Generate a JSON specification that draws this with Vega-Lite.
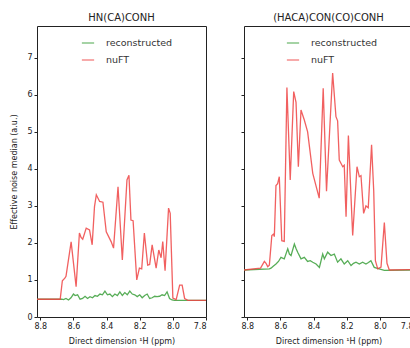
{
  "$schema": "https://vega.github.io/schema/vega-lite/v6.json",
  "padding": {"left": 10, "top": 12, "right": 0, "bottom": 0},
  "spacing": 30,
  "config": {
    "font": "DejaVu Sans",
    "view": {"stroke": "#222", "strokeWidth": 1},
    "axis": {"grid": false, "domain": false, "labelFontSize": 8, "titleFontSize": 8, "labelColor": "#222", "titleColor": "#222", "titleFontWeight": "normal", "tickColor": "#222", "tickSize": 3},
    "title": {"fontSize": 10, "fontWeight": "normal", "color": "#222", "offset": 3},
    "legend": {"symbolType": "stroke", "symbolSize": 150, "symbolStrokeWidth": 1.5, "labelFontSize": 9.5, "labelColor": "#333", "labelOffset": 11, "rowPadding": 5, "padding": 0, "title": null, "symbolOpacity": 0.6}
  },
  "datasets": {
    "d": [
      {"panel": "A", "series": "reconstructed", "ppm": 8.82, "value": 0.48},
      {"panel": "A", "series": "reconstructed", "ppm": 8.67, "value": 0.48},
      {"panel": "A", "series": "reconstructed", "ppm": 8.66, "value": 0.47},
      {"panel": "A", "series": "reconstructed", "ppm": 8.645, "value": 0.5},
      {"panel": "A", "series": "reconstructed", "ppm": 8.63, "value": 0.46},
      {"panel": "A", "series": "reconstructed", "ppm": 8.615, "value": 0.52},
      {"panel": "A", "series": "reconstructed", "ppm": 8.6, "value": 0.62},
      {"panel": "A", "series": "reconstructed", "ppm": 8.59, "value": 0.58},
      {"panel": "A", "series": "reconstructed", "ppm": 8.575, "value": 0.6},
      {"panel": "A", "series": "reconstructed", "ppm": 8.56, "value": 0.48},
      {"panel": "A", "series": "reconstructed", "ppm": 8.545, "value": 0.5},
      {"panel": "A", "series": "reconstructed", "ppm": 8.53, "value": 0.56},
      {"panel": "A", "series": "reconstructed", "ppm": 8.515, "value": 0.5},
      {"panel": "A", "series": "reconstructed", "ppm": 8.5, "value": 0.55},
      {"panel": "A", "series": "reconstructed", "ppm": 8.485, "value": 0.52},
      {"panel": "A", "series": "reconstructed", "ppm": 8.47, "value": 0.58},
      {"panel": "A", "series": "reconstructed", "ppm": 8.455, "value": 0.56},
      {"panel": "A", "series": "reconstructed", "ppm": 8.44, "value": 0.62},
      {"panel": "A", "series": "reconstructed", "ppm": 8.425, "value": 0.6},
      {"panel": "A", "series": "reconstructed", "ppm": 8.41, "value": 0.7},
      {"panel": "A", "series": "reconstructed", "ppm": 8.395, "value": 0.6},
      {"panel": "A", "series": "reconstructed", "ppm": 8.38, "value": 0.62},
      {"panel": "A", "series": "reconstructed", "ppm": 8.365, "value": 0.55},
      {"panel": "A", "series": "reconstructed", "ppm": 8.35, "value": 0.62},
      {"panel": "A", "series": "reconstructed", "ppm": 8.335, "value": 0.58},
      {"panel": "A", "series": "reconstructed", "ppm": 8.32, "value": 0.68},
      {"panel": "A", "series": "reconstructed", "ppm": 8.305, "value": 0.58},
      {"panel": "A", "series": "reconstructed", "ppm": 8.29, "value": 0.66},
      {"panel": "A", "series": "reconstructed", "ppm": 8.275, "value": 0.6},
      {"panel": "A", "series": "reconstructed", "ppm": 8.26, "value": 0.7},
      {"panel": "A", "series": "reconstructed", "ppm": 8.245, "value": 0.62},
      {"panel": "A", "series": "reconstructed", "ppm": 8.23, "value": 0.6},
      {"panel": "A", "series": "reconstructed", "ppm": 8.215, "value": 0.55},
      {"panel": "A", "series": "reconstructed", "ppm": 8.2, "value": 0.6},
      {"panel": "A", "series": "reconstructed", "ppm": 8.185, "value": 0.52},
      {"panel": "A", "series": "reconstructed", "ppm": 8.17, "value": 0.58},
      {"panel": "A", "series": "reconstructed", "ppm": 8.155, "value": 0.62},
      {"panel": "A", "series": "reconstructed", "ppm": 8.14, "value": 0.5},
      {"panel": "A", "series": "reconstructed", "ppm": 8.125, "value": 0.52},
      {"panel": "A", "series": "reconstructed", "ppm": 8.11, "value": 0.56},
      {"panel": "A", "series": "reconstructed", "ppm": 8.095, "value": 0.55},
      {"panel": "A", "series": "reconstructed", "ppm": 8.08, "value": 0.56},
      {"panel": "A", "series": "reconstructed", "ppm": 8.065, "value": 0.6},
      {"panel": "A", "series": "reconstructed", "ppm": 8.05, "value": 0.58},
      {"panel": "A", "series": "reconstructed", "ppm": 8.035, "value": 0.68},
      {"panel": "A", "series": "reconstructed", "ppm": 8.02, "value": 0.5},
      {"panel": "A", "series": "reconstructed", "ppm": 8.005, "value": 0.46},
      {"panel": "A", "series": "reconstructed", "ppm": 7.99, "value": 0.45},
      {"panel": "A", "series": "reconstructed", "ppm": 7.8, "value": 0.45},

      {"panel": "A", "series": "nuFT", "ppm": 8.82, "value": 0.48},
      {"panel": "A", "series": "nuFT", "ppm": 8.68, "value": 0.48},
      {"panel": "A", "series": "nuFT", "ppm": 8.667, "value": 0.98},
      {"panel": "A", "series": "nuFT", "ppm": 8.652, "value": 1.05},
      {"panel": "A", "series": "nuFT", "ppm": 8.645, "value": 1.1},
      {"panel": "A", "series": "nuFT", "ppm": 8.614, "value": 2.03},
      {"panel": "A", "series": "nuFT", "ppm": 8.584, "value": 0.82},
      {"panel": "A", "series": "nuFT", "ppm": 8.564, "value": 2.27},
      {"panel": "A", "series": "nuFT", "ppm": 8.554, "value": 2.15},
      {"panel": "A", "series": "nuFT", "ppm": 8.544, "value": 2.1},
      {"panel": "A", "series": "nuFT", "ppm": 8.523, "value": 2.4},
      {"panel": "A", "series": "nuFT", "ppm": 8.503, "value": 2.35},
      {"panel": "A", "series": "nuFT", "ppm": 8.487, "value": 1.95},
      {"panel": "A", "series": "nuFT", "ppm": 8.473, "value": 2.98},
      {"panel": "A", "series": "nuFT", "ppm": 8.462, "value": 3.3},
      {"panel": "A", "series": "nuFT", "ppm": 8.442, "value": 3.12},
      {"panel": "A", "series": "nuFT", "ppm": 8.422, "value": 3.1},
      {"panel": "A", "series": "nuFT", "ppm": 8.402, "value": 2.3},
      {"panel": "A", "series": "nuFT", "ppm": 8.372, "value": 2.03},
      {"panel": "A", "series": "nuFT", "ppm": 8.358, "value": 1.86},
      {"panel": "A", "series": "nuFT", "ppm": 8.331, "value": 3.52},
      {"panel": "A", "series": "nuFT", "ppm": 8.305, "value": 1.54},
      {"panel": "A", "series": "nuFT", "ppm": 8.277, "value": 3.7},
      {"panel": "A", "series": "nuFT", "ppm": 8.265, "value": 3.83},
      {"panel": "A", "series": "nuFT", "ppm": 8.253, "value": 2.62},
      {"panel": "A", "series": "nuFT", "ppm": 8.24, "value": 2.6},
      {"panel": "A", "series": "nuFT", "ppm": 8.218, "value": 1.0},
      {"panel": "A", "series": "nuFT", "ppm": 8.202, "value": 1.32},
      {"panel": "A", "series": "nuFT", "ppm": 8.188, "value": 1.3},
      {"panel": "A", "series": "nuFT", "ppm": 8.172, "value": 2.27},
      {"panel": "A", "series": "nuFT", "ppm": 8.152, "value": 1.4},
      {"panel": "A", "series": "nuFT", "ppm": 8.14, "value": 1.42},
      {"panel": "A", "series": "nuFT", "ppm": 8.125, "value": 1.95},
      {"panel": "A", "series": "nuFT", "ppm": 8.101, "value": 1.32},
      {"panel": "A", "series": "nuFT", "ppm": 8.085, "value": 1.81},
      {"panel": "A", "series": "nuFT", "ppm": 8.071, "value": 1.6},
      {"panel": "A", "series": "nuFT", "ppm": 8.061, "value": 2.04},
      {"panel": "A", "series": "nuFT", "ppm": 8.047, "value": 1.25},
      {"panel": "A", "series": "nuFT", "ppm": 8.026, "value": 2.94},
      {"panel": "A", "series": "nuFT", "ppm": 8.016, "value": 2.8},
      {"panel": "A", "series": "nuFT", "ppm": 8.0, "value": 0.51},
      {"panel": "A", "series": "nuFT", "ppm": 7.98, "value": 0.47},
      {"panel": "A", "series": "nuFT", "ppm": 7.959, "value": 0.86},
      {"panel": "A", "series": "nuFT", "ppm": 7.944, "value": 0.86},
      {"panel": "A", "series": "nuFT", "ppm": 7.929, "value": 0.5},
      {"panel": "A", "series": "nuFT", "ppm": 7.909, "value": 0.45},
      {"panel": "A", "series": "nuFT", "ppm": 7.8, "value": 0.45},

      {"panel": "B", "series": "reconstructed", "ppm": 8.82, "value": 1.27},
      {"panel": "B", "series": "reconstructed", "ppm": 8.667, "value": 1.3},
      {"panel": "B", "series": "reconstructed", "ppm": 8.657, "value": 1.32},
      {"panel": "B", "series": "reconstructed", "ppm": 8.642, "value": 1.38},
      {"panel": "B", "series": "reconstructed", "ppm": 8.627, "value": 1.43},
      {"panel": "B", "series": "reconstructed", "ppm": 8.612, "value": 1.5},
      {"panel": "B", "series": "reconstructed", "ppm": 8.597, "value": 1.61},
      {"panel": "B", "series": "reconstructed", "ppm": 8.577, "value": 1.57},
      {"panel": "B", "series": "reconstructed", "ppm": 8.556, "value": 1.84},
      {"panel": "B", "series": "reconstructed", "ppm": 8.546, "value": 1.7},
      {"panel": "B", "series": "reconstructed", "ppm": 8.536, "value": 1.66},
      {"panel": "B", "series": "reconstructed", "ppm": 8.516, "value": 1.97},
      {"panel": "B", "series": "reconstructed", "ppm": 8.506, "value": 1.85},
      {"panel": "B", "series": "reconstructed", "ppm": 8.496, "value": 1.75},
      {"panel": "B", "series": "reconstructed", "ppm": 8.476, "value": 1.57},
      {"panel": "B", "series": "reconstructed", "ppm": 8.456, "value": 1.61},
      {"panel": "B", "series": "reconstructed", "ppm": 8.436, "value": 1.5},
      {"panel": "B", "series": "reconstructed", "ppm": 8.42, "value": 1.52},
      {"panel": "B", "series": "reconstructed", "ppm": 8.405, "value": 1.48},
      {"panel": "B", "series": "reconstructed", "ppm": 8.385, "value": 1.43},
      {"panel": "B", "series": "reconstructed", "ppm": 8.365, "value": 1.34},
      {"panel": "B", "series": "reconstructed", "ppm": 8.345, "value": 1.7},
      {"panel": "B", "series": "reconstructed", "ppm": 8.335, "value": 1.57},
      {"panel": "B", "series": "reconstructed", "ppm": 8.315, "value": 1.75},
      {"panel": "B", "series": "reconstructed", "ppm": 8.295, "value": 1.66},
      {"panel": "B", "series": "reconstructed", "ppm": 8.275, "value": 1.7},
      {"panel": "B", "series": "reconstructed", "ppm": 8.255, "value": 1.48},
      {"panel": "B", "series": "reconstructed", "ppm": 8.235, "value": 1.57},
      {"panel": "B", "series": "reconstructed", "ppm": 8.215, "value": 1.43},
      {"panel": "B", "series": "reconstructed", "ppm": 8.194, "value": 1.52},
      {"panel": "B", "series": "reconstructed", "ppm": 8.174, "value": 1.39},
      {"panel": "B", "series": "reconstructed", "ppm": 8.159, "value": 1.45},
      {"panel": "B", "series": "reconstructed", "ppm": 8.144, "value": 1.48},
      {"panel": "B", "series": "reconstructed", "ppm": 8.124, "value": 1.43},
      {"panel": "B", "series": "reconstructed", "ppm": 8.104, "value": 1.48},
      {"panel": "B", "series": "reconstructed", "ppm": 8.084, "value": 1.43},
      {"panel": "B", "series": "reconstructed", "ppm": 8.069, "value": 1.47},
      {"panel": "B", "series": "reconstructed", "ppm": 8.054, "value": 1.52},
      {"panel": "B", "series": "reconstructed", "ppm": 8.034, "value": 1.34},
      {"panel": "B", "series": "reconstructed", "ppm": 8.004, "value": 1.3},
      {"panel": "B", "series": "reconstructed", "ppm": 7.973, "value": 1.26},
      {"panel": "B", "series": "reconstructed", "ppm": 7.8, "value": 1.27},

      {"panel": "B", "series": "nuFT", "ppm": 8.82, "value": 1.27},
      {"panel": "B", "series": "nuFT", "ppm": 8.72, "value": 1.32},
      {"panel": "B", "series": "nuFT", "ppm": 8.697, "value": 1.5},
      {"panel": "B", "series": "nuFT", "ppm": 8.687, "value": 1.45},
      {"panel": "B", "series": "nuFT", "ppm": 8.677, "value": 1.36},
      {"panel": "B", "series": "nuFT", "ppm": 8.667, "value": 1.4},
      {"panel": "B", "series": "nuFT", "ppm": 8.652, "value": 2.2},
      {"panel": "B", "series": "nuFT", "ppm": 8.642, "value": 2.24},
      {"panel": "B", "series": "nuFT", "ppm": 8.637, "value": 2.17},
      {"panel": "B", "series": "nuFT", "ppm": 8.627, "value": 3.55},
      {"panel": "B", "series": "nuFT", "ppm": 8.617, "value": 3.6},
      {"panel": "B", "series": "nuFT", "ppm": 8.607, "value": 3.79},
      {"panel": "B", "series": "nuFT", "ppm": 8.592, "value": 2.06},
      {"panel": "B", "series": "nuFT", "ppm": 8.577, "value": 2.04},
      {"panel": "B", "series": "nuFT", "ppm": 8.561, "value": 6.2},
      {"panel": "B", "series": "nuFT", "ppm": 8.541, "value": 3.7},
      {"panel": "B", "series": "nuFT", "ppm": 8.52, "value": 6.09},
      {"panel": "B", "series": "nuFT", "ppm": 8.506, "value": 5.8},
      {"panel": "B", "series": "nuFT", "ppm": 8.492, "value": 4.06},
      {"panel": "B", "series": "nuFT", "ppm": 8.476, "value": 5.59},
      {"panel": "B", "series": "nuFT", "ppm": 8.456, "value": 5.32},
      {"panel": "B", "series": "nuFT", "ppm": 8.436, "value": 5.0},
      {"panel": "B", "series": "nuFT", "ppm": 8.405, "value": 3.88},
      {"panel": "B", "series": "nuFT", "ppm": 8.366, "value": 3.21},
      {"panel": "B", "series": "nuFT", "ppm": 8.342, "value": 6.18},
      {"panel": "B", "series": "nuFT", "ppm": 8.322, "value": 3.4},
      {"panel": "B", "series": "nuFT", "ppm": 8.285, "value": 6.59},
      {"panel": "B", "series": "nuFT", "ppm": 8.265, "value": 5.41},
      {"panel": "B", "series": "nuFT", "ppm": 8.255, "value": 5.3},
      {"panel": "B", "series": "nuFT", "ppm": 8.245, "value": 4.24},
      {"panel": "B", "series": "nuFT", "ppm": 8.224, "value": 4.06},
      {"panel": "B", "series": "nuFT", "ppm": 8.215, "value": 4.1},
      {"panel": "B", "series": "nuFT", "ppm": 8.204, "value": 2.71},
      {"panel": "B", "series": "nuFT", "ppm": 8.19, "value": 4.9},
      {"panel": "B", "series": "nuFT", "ppm": 8.164, "value": 2.2},
      {"panel": "B", "series": "nuFT", "ppm": 8.138, "value": 4.06},
      {"panel": "B", "series": "nuFT", "ppm": 8.124, "value": 3.79},
      {"panel": "B", "series": "nuFT", "ppm": 8.114, "value": 3.82},
      {"panel": "B", "series": "nuFT", "ppm": 8.098, "value": 2.8},
      {"panel": "B", "series": "nuFT", "ppm": 8.084, "value": 3.0},
      {"panel": "B", "series": "nuFT", "ppm": 8.07, "value": 2.95},
      {"panel": "B", "series": "nuFT", "ppm": 8.05, "value": 4.65},
      {"panel": "B", "series": "nuFT", "ppm": 8.037, "value": 3.4},
      {"panel": "B", "series": "nuFT", "ppm": 8.027, "value": 1.52},
      {"panel": "B", "series": "nuFT", "ppm": 8.013, "value": 1.3},
      {"panel": "B", "series": "nuFT", "ppm": 7.993, "value": 1.35},
      {"panel": "B", "series": "nuFT", "ppm": 7.973, "value": 2.55},
      {"panel": "B", "series": "nuFT", "ppm": 7.957, "value": 1.45},
      {"panel": "B", "series": "nuFT", "ppm": 7.943, "value": 1.27},
      {"panel": "B", "series": "nuFT", "ppm": 7.8, "value": 1.28}
    ]
  },
  "data": {"name": "d"},
  "resolve": {"legend": {"color": "independent"}},
  "hconcat": [
    {
      "title": "HN(CA)CONH",
      "width": 169,
      "height": 291,
      "transform": [{"filter": "datum.panel === 'A'"}],
      "mark": {"type": "line", "strokeWidth": 1.3, "opacity": 0.85},
      "encoding": {
        "x": {"field": "ppm", "type": "quantitative", "scale": {"domain": [7.8, 8.82], "reverse": true, "nice": false, "zero": false}, "axis": {"values": [8.8, 8.6, 8.4, 8.2, 8.0, 7.8], "format": ".1f", "title": "Direct dimension ¹H (ppm)", "titlePadding": 7, "labelPadding": 2}},
        "y": {"field": "value", "type": "quantitative", "scale": {"domain": [0, 7.86], "nice": false}, "axis": {"values": [0, 1, 2, 3, 4, 5, 6, 7], "title": "Effective noise median (a.u.)", "titlePadding": 8, "labelPadding": 2}},
        "color": {"field": "series", "type": "nominal", "scale": {"domain": ["reconstructed", "nuFT"], "range": ["#3a9f3a", "#ee4444"]}, "legend": {"orient": "none", "legendX": 44, "legendY": 10}}
      }
    },
    {
      "title": "(HACA)CON(CO)CONH",
      "width": 169,
      "height": 291,
      "transform": [{"filter": "datum.panel === 'B'"}],
      "mark": {"type": "line", "strokeWidth": 1.3, "opacity": 0.85},
      "encoding": {
        "x": {"field": "ppm", "type": "quantitative", "scale": {"domain": [7.8, 8.82], "reverse": true, "nice": false, "zero": false}, "axis": {"values": [8.8, 8.6, 8.4, 8.2, 8.0, 7.8], "format": ".1f", "title": "Direct dimension ¹H (ppm)", "titlePadding": 7, "labelPadding": 2}},
        "y": {"field": "value", "type": "quantitative", "scale": {"domain": [0, 7.86], "nice": false}, "axis": {"values": [0, 1, 2, 3, 4, 5, 6, 7], "labels": false, "title": null}},
        "color": {"field": "series", "type": "nominal", "scale": {"domain": ["reconstructed", "nuFT"], "range": ["#3a9f3a", "#ee4444"]}, "legend": {"orient": "none", "legendX": 42, "legendY": 10}}
      }
    }
  ]
}
